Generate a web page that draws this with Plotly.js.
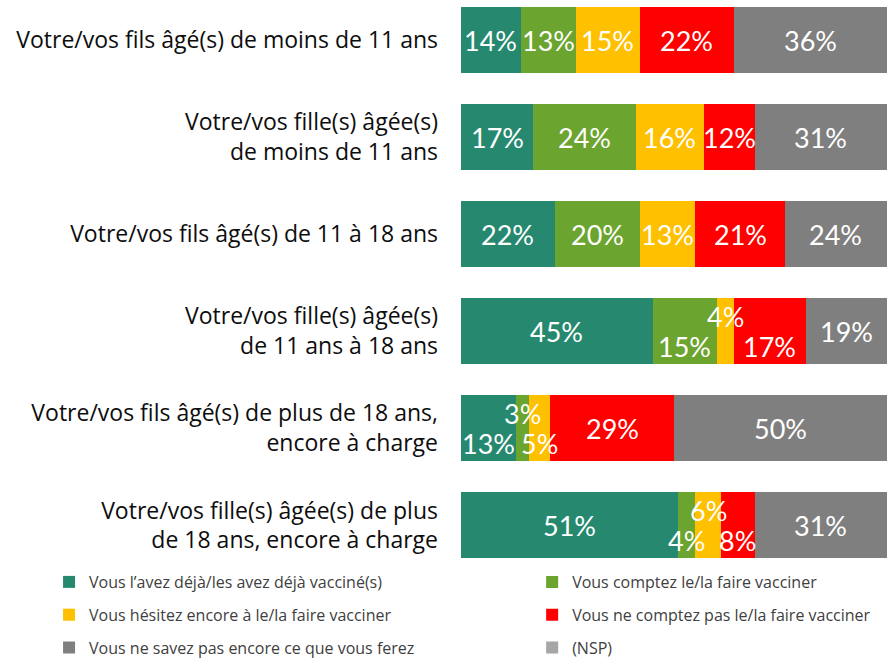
<!DOCTYPE html>
<html>
<head>
<meta charset="utf-8">
<script src="https://cdn.plot.ly/plotly-3.0.1.min.js"></script>
<style>html,body{margin:0;padding:0;background:#fff;overflow:hidden;}#chart{width:887px;height:658px;overflow:hidden;}</style>
</head>
<body>
<div id="chart"></div>
<script>
var categories = [
  "Votre/vos fils âgé(s) de moins de 11 ans",
  "Votre/vos fille(s) âgée(s)<br>de moins de 11 ans",
  "Votre/vos fils âgé(s) de 11 à 18 ans",
  "Votre/vos fille(s) âgée(s)<br>de 11 ans à 18 ans",
  "Votre/vos fils âgé(s) de plus de 18 ans,<br>encore à charge",
  "Votre/vos fille(s) âgée(s) de plus<br>de 18 ans, encore à charge"
];
var seriesNames = [
  "Vous l\u2019avez déjà/les avez déjà vacciné(s)",
  "Vous comptez le/la faire vacciner",
  "Vous hésitez encore à le/la faire vacciner",
  "Vous ne comptez pas le/la faire vacciner",
  "Vous ne savez pas encore ce que vous ferez",
  "(NSP)"
];
var dejaVaccine = [14, 17, 22, 45, 13, 51];
var comptez     = [13, 24, 20, 15, 3, 4];
var hesitez     = [15, 16, 13, 4, 5, 6];
var neComptez   = [22, 12, 21, 17, 29, 8];
var neSavez     = [36, 31, 24, 19, 50, 31];
var nsp         = [0, 0, 0, 0, 0, 0];
// label vertical placement per series/category: 0 centre, 1 above, -1 below
var labelPlace = [
  [0, 0, 0, 0, -1, 0],
  [0, 0, 0, -1, 1, -1],
  [0, 0, 0, 1, -1, 1],
  [0, 0, 0, -1, 0, -1],
  [0, 0, 0, 0, 0, 0]
];

var colors = ["#26896F", "#6BA42E", "#FFC000", "#FF0000", "#7F7F7F", "#A6A6A6"];
var allSeries = [dejaVaccine, comptez, hesitez, neComptez, neSavez, nsp];
var legendOf = ["legend", "legend2", "legend", "legend2", "legend", "legend2"];

var traces = allSeries.map(function (vals, i) {
  return {
    type: "bar",
    orientation: "h",
    name: seriesNames[i],
    x: vals,
    y: categories,
    marker: {color: colors[i], line: {width: 0}},
    legend: legendOf[i],
    legendgroup: "g" + i,
    hoverinfo: "x+name"
  };
});

var annotations = [];
categories.forEach(function (cat, c) {
  var cum = 0;
  for (var s = 0; s < 5; s++) {
    var v = allSeries[s][c];
    annotations.push({
      x: cum + v / 2, y: cat, xref: "x", yref: "y",
      text: v + "%", showarrow: false,
      yshift: labelPlace[s][c] * 15,
      font: {family: "Lato, sans-serif", size: 27, color: "#ffffff"}
    });
    cum += v;
  }
});

var legendFont = {family: "Open Sans, sans-serif", size: 16, color: "#404040"};
var layout = {
  width: 887, height: 665,
  margin: {l: 461, r: 0, t: 0, b: 0},
  barmode: "stack",
  bargap: 0.32,
  paper_bgcolor: "#ffffff",
  plot_bgcolor: "rgba(0,0,0,0)",
  showlegend: true,
  font: {family: "Open Sans, sans-serif", color: "#0d0d0d"},
  xaxis: {range: [0, 100], visible: false, fixedrange: true},
  yaxis: {
    type: "category",
    range: [6.437, -0.412],
    showgrid: false, zeroline: false, showline: false,
    ticks: "", ticklabelstandoff: 22,
    tickfont: {family: "Open Sans, sans-serif", size: 23, color: "#0d0d0d"}
  },
  legend: {
    x: -0.967, xanchor: "left", y: 0, yanchor: "bottom",
    orientation: "v", traceorder: "grouped", tracegroupgap: 9,
    font: legendFont, bgcolor: "rgba(0,0,0,0)"
  },
  legend2: {
    x: 0.167, xanchor: "left", y: 0, yanchor: "bottom",
    orientation: "v", traceorder: "grouped", tracegroupgap: 9,
    font: legendFont, bgcolor: "rgba(0,0,0,0)"
  },
  annotations: annotations
};

Plotly.newPlot("chart", traces, layout, {displayModeBar: false, staticPlot: true});
</script>
</body>
</html>
